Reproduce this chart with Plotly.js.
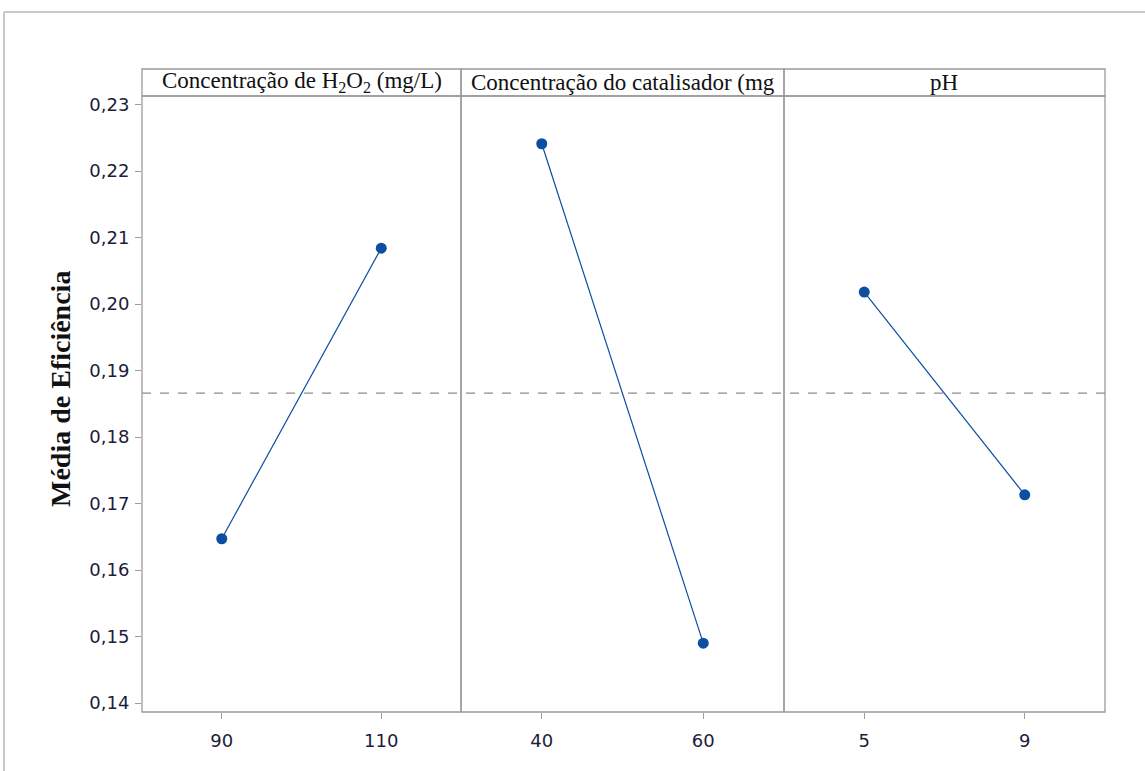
<!DOCTYPE html>
<html>
<head>
<meta charset="utf-8">
<script src="https://cdn.plot.ly/plotly-3.0.1.min.js"></script>
<style>html,body{margin:0;padding:0;background:#fff;}#chart{width:1145px;height:771px;}</style>
</head>
<body>
<div id="chart"></div>
<script>
// Factor names (panel headers)
const factorNames = ["Concentração de H<sub>2</sub>O<sub>2</sub> (mg/L)", "Concentração do catalisador (mg", "pH"];
// Factor levels (x tick labels)
const levelsH2O2 = ["90", "110"];
const levelsCat = ["40", "60"];
const levelsPH = ["5", "9"];
// Mean efficiency at each level
const meansH2O2 = [0.1647, 0.2084];
const meansCat = [0.2241, 0.1490];
const meansPH = [0.2018, 0.1713];
// Overall mean
const grandMean = 0.1866;
// Y axis ticks
const yTicks = [0.14, 0.15, 0.16, 0.17, 0.18, 0.19, 0.20, 0.21, 0.22, 0.23];

const levels = [levelsH2O2, levelsCat, levelsPH];
const means = [meansH2O2, meansCat, meansPH];
const axisIds = ["x", "x2", "x3"];

const blue = "#0b4ea2";
const traces = levels.map((lv, i) => ({
  type: "scatter", mode: "lines+markers",
  x: lv, y: means[i],
  xaxis: axisIds[i], yaxis: "y",
  line: {color: blue, width: 1.2},
  marker: {color: blue, size: 11},
  showlegend: false, hoverinfo: "x+y"
}));

const W = 963, H = 616; // plot area px
const d1 = 319 / W, d2 = 642 / W;
const domains = [[0, d1], [d1, d2], [d2, 1]];
const gray = "#9a9a9a";
const tickFont = {family: "DejaVu Sans, sans-serif", size: 18, color: "#1c1c3c"};
const serif = "Liberation Serif, Times New Roman, serif";

const layout = {
  width: 1145, height: 771,
  margin: {l: 142, r: 40, t: 96, b: 59},
  paper_bgcolor: "#fff", plot_bgcolor: "#fff",
  separators: ",.",
  showlegend: false,
  yaxis: {
    range: [0.13865, 0.23128], tickvals: yTicks, tickformat: ".2f",
    ticks: "outside", ticklen: 6, tickcolor: gray, showgrid: false, zeroline: false,
    showline: false, tickfont: tickFont, ticklabelstandoff: 2
  },
  shapes: [],
  annotations: []
};
levels.forEach((lv, i) => {
  const key = i === 0 ? "xaxis" : "xaxis" + (i + 1);
  layout[key] = {
    domain: domains[i], type: "category", range: [-0.5, 1.5], anchor: "y",
    ticks: "outside", ticklen: 6, tickcolor: gray, showgrid: false, zeroline: false,
    showline: false, tickfont: tickFont, ticklabelstandoff: 6
  };
  // header strip
  layout.shapes.push({type: "rect", xref: "paper", yref: "paper",
    x0: domains[i][0], x1: domains[i][1], y0: 1, y1: 1 + 27 / H,
    line: {color: gray, width: 1.3}, fillcolor: "rgba(0,0,0,0)"});
  layout.annotations.push({xref: "paper", yref: "paper",
    x: (domains[i][0] + domains[i][1]) / 2, y: 1 + 14 / H,
    xanchor: "center", yanchor: "middle", showarrow: false,
    text: factorNames[i],
    font: {family: serif, size: 23, color: "#111"}});
  // panel box
  layout.shapes.push({type: "rect", xref: "paper", yref: "paper",
    x0: domains[i][0], x1: domains[i][1], y0: 0, y1: 1,
    line: {color: gray, width: 1.3}, fillcolor: "rgba(0,0,0,0)"});
});
// grand mean reference line
layout.shapes.push({type: "line", xref: "paper", yref: "y", x0: 0, x1: 1,
  y0: grandMean, y1: grandMean, line: {color: "#8c8c8c", width: 1.3, dash: "dash"}});
// outer frame
layout.shapes.push({type: "line", xref: "paper", yref: "paper",
  x0: -138 / W, x1: 1003 / W, y0: 700 / H, y1: 700 / H, line: {color: "#c8c8c8", width: 2}});
layout.shapes.push({type: "line", xref: "paper", yref: "paper",
  x0: -138 / W, x1: -138 / W, y0: 700 / H, y1: -59 / H, line: {color: "#c8c8c8", width: 2}});
// y axis title
layout.annotations.push({xref: "paper", yref: "paper", x: -82 / W, y: (712 - 389) / H,
  xanchor: "center", yanchor: "middle", textangle: -90, showarrow: false,
  text: "<b>Média de Eficiência</b>",
  font: {family: serif, size: 28, color: "#111"}});

Plotly.newPlot("chart", traces, layout, {displayModeBar: false, staticPlot: true});
</script>
</body>
</html>
